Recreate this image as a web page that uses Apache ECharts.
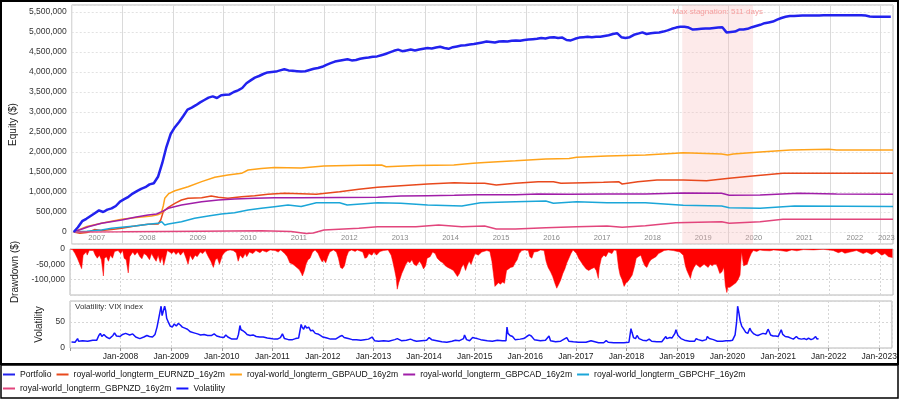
<!DOCTYPE html>
<html>
<head>
<meta charset="utf-8">
<title>Portfolio equity, drawdown and volatility</title>
<script src="https://cdn.jsdelivr.net/npm/echarts@6/dist/echarts.min.js"></script>
<style>
  html, body { margin: 0; padding: 0; background: #fff; }
  #chart { width: 900px; height: 399px; }
</style>
</head>
<body>
<div id="chart"></div>
<script>
// ---- data (dates are decimal years, money in thousands of $) ----
const portfolioName = 'Portfolio'
const eurnzdName = 'royal-world_longterm_EURNZD_16y2m'
const gbpaudName = 'royal-world_longterm_GBPAUD_16y2m'
const gbpcadName = 'royal-world_longterm_GBPCAD_16y2m'
const gbpchfName = 'royal-world_longterm_GBPCHF_16y2m'
const gbpnzdName = 'royal-world_longterm_GBPNZD_16y2m'
const volName = 'Volatility'

// portfolio: one value per month, first sample mid January 2007
const portfolioStart = 2007.04
const portfolioK = [
  0, 120, 270, 330, 400, 470, 540, 500, 560, 590, 650, 760,
  820, 880, 960, 1020, 1080, 1120, 1190, 1220, 1380, 1720, 2130, 2450,
  2620, 2750, 2900, 3060, 3110, 3170, 3240, 3300, 3360, 3390, 3350, 3420,
  3430, 3440, 3500, 3540, 3600, 3720, 3790, 3860, 3900, 3950, 3990, 4000,
  4010, 4040, 4070, 4040, 4030, 4020, 4010, 4020, 4050, 4080, 4100, 4130,
  4180, 4220, 4260, 4280, 4300, 4320, 4290, 4300, 4330, 4350, 4360, 4380,
  4390, 4420, 4450, 4490, 4530, 4560, 4520, 4540, 4560, 4540, 4560, 4580,
  4600, 4590, 4610, 4630, 4600, 4580, 4620, 4640, 4660, 4670, 4690, 4700,
  4720, 4740, 4760, 4750, 4740, 4760, 4770, 4760, 4780, 4790, 4780, 4800,
  4810, 4820, 4830, 4850, 4840, 4860, 4870, 4850, 4860, 4800, 4790, 4830,
  4860, 4870, 4880, 4870, 4880, 4880, 4900, 4920, 4950, 4970, 4870, 4850,
  4870, 4930, 4960, 4990, 4950, 4970, 4980, 4990, 5010, 5040, 5080, 5110,
  5130, 5130, 5110, 5060, 5070, 5080, 5090, 5090, 5100, 5110, 5120, 4990,
  5000, 5010, 5060, 5060, 5080, 5120, 5150, 5180, 5220, 5240, 5260, 5310,
  5350, 5380, 5400, 5400, 5405, 5410, 5410, 5410, 5415, 5415, 5420, 5420,
  5420, 5420, 5420, 5420, 5420, 5420, 5420, 5420, 5410, 5390, 5380, 5380,
  5380, 5380, 5380
]

const eurnzdK = [
  [2007.04, 0], [2007.16, -30], [2007.30, -15], [2007.45, 60], [2007.59, 40], [2007.79, 65],
  [2007.99, 92], [2008.25, 150], [2008.51, 192], [2008.71, 200], [2008.76, 300], [2008.81, 508],
  [2008.91, 617], [2009.04, 717], [2009.17, 800], [2009.30, 842], [2009.57, 858], [2009.76, 900],
  [2009.90, 867], [2010.09, 842], [2010.36, 883], [2010.62, 908], [2010.88, 942], [2011.21, 967],
  [2011.54, 955], [2011.84, 942], [2012.30, 1008], [2012.68, 1067], [2013.05, 1117], [2013.51, 1158],
  [2014.04, 1200], [2014.57, 1233], [2014.87, 1217], [2015.17, 1217], [2015.40, 1175], [2015.78, 1217],
  [2016.23, 1258], [2016.53, 1258], [2016.68, 1217], [2017.14, 1233], [2017.52, 1242], [2017.82, 1258],
  [2017.89, 1200], [2018.20, 1258], [2018.58, 1300], [2019.10, 1300], [2019.56, 1283], [2020.01, 1342],
  [2020.47, 1400], [2021.07, 1467], [2023.25, 1467]
]

const gbpaudK = [
  [2007.04, 0], [2007.30, 140], [2007.59, 220], [2007.99, 320], [2008.28, 360], [2008.58, 400],
  [2008.70, 430], [2008.77, 470], [2008.81, 650], [2008.84, 842], [2008.92, 960], [2009.04, 1030],
  [2009.30, 1130], [2009.57, 1260], [2009.83, 1370], [2010.09, 1425], [2010.36, 1467], [2010.49, 1550],
  [2010.75, 1590], [2011.01, 1610], [2011.54, 1600], [2011.99, 1650], [2012.68, 1670], [2013.13, 1675],
  [2013.22, 1630], [2013.81, 1660], [2014.56, 1675], [2014.94, 1720], [2015.17, 1740], [2015.78, 1780],
  [2016.38, 1825], [2016.84, 1840], [2016.99, 1870], [2017.59, 1900], [2018.35, 1925], [2018.95, 1970],
  [2019.10, 1980], [2019.86, 1950], [2019.98, 1925], [2020.09, 1950], [2020.62, 2000], [2021.22, 2050],
  [2021.98, 2070], [2022.13, 2050], [2023.25, 2050]
]

const gbpcadK = [
  [2007.04, 0], [2007.33, 133], [2007.59, 217], [2007.99, 300], [2008.25, 367], [2008.51, 425],
  [2008.68, 450], [2008.78, 508], [2008.91, 592], [2009.17, 675], [2009.57, 758], [2009.90, 800],
  [2010.22, 825], [2010.62, 842], [2011.01, 858], [2011.54, 858], [2013.05, 867], [2013.51, 900],
  [2014.04, 908], [2014.57, 917], [2015.02, 933], [2015.78, 933], [2016.23, 950], [2016.84, 942],
  [2017.59, 950], [2018.35, 950], [2019.10, 975], [2019.86, 967], [2020.01, 917], [2020.62, 925],
  [2021.38, 967], [2022.13, 950], [2023.25, 942]
]

const gbpchfK = [
  [2007.04, 0], [2007.30, 20], [2007.59, 50], [2007.79, 92], [2007.99, 117], [2008.25, 150],
  [2008.51, 192], [2008.71, 217], [2008.78, 258], [2008.84, 175], [2008.91, 200], [2009.17, 258],
  [2009.43, 342], [2009.70, 400], [2009.96, 450], [2010.22, 483], [2010.49, 550], [2010.75, 592],
  [2011.01, 633], [2011.28, 675], [2011.54, 640], [2011.84, 733], [2012.30, 733], [2012.45, 675],
  [2013.05, 733], [2013.51, 717], [2014.04, 675], [2014.72, 650], [2015.09, 733], [2015.78, 758],
  [2016.38, 775], [2016.53, 717], [2016.99, 758], [2017.59, 733], [2018.35, 733], [2019.10, 667],
  [2019.86, 650], [2020.01, 608], [2020.62, 592], [2021.30, 650], [2023.25, 640]
]

const gbpnzdK = [
  [2007.04, 0], [2007.99, 5], [2009.57, 20], [2010.75, 30], [2011.34, 15], [2011.64, -35],
  [2011.78, -25], [2011.99, 50], [2012.68, 92], [2013.05, 133], [2013.81, 133], [2014.26, 175],
  [2014.72, 133], [2015.17, 150], [2015.40, 75], [2015.78, 75], [2016.38, 108], [2016.99, 133],
  [2017.59, 150], [2017.89, 117], [2018.35, 158], [2018.95, 233], [2019.86, 258], [2020.01, 217],
  [2020.62, 258], [2021.07, 317], [2023.25, 317]
]

const drawdownK = [
  [2007.00, 0], [2007.05, -2], [2007.10, -15], [2007.145, -30], [2007.18, -25], [2007.23, -64],
  [2007.26, -20], [2007.32, -10], [2007.34, -20], [2007.38, -5], [2007.46, -5], [2007.50, -20],
  [2007.54, -30], [2007.58, -20], [2007.62, -35], [2007.66, -88], [2007.68, -30], [2007.72, -25],
  [2007.76, -40], [2007.80, -20], [2007.84, -30], [2007.88, -8], [2007.95, -5], [2008.00, -15],
  [2008.04, -5], [2008.07, -30], [2008.11, -35], [2008.15, -78], [2008.18, -25], [2008.24, -10],
  [2008.28, -20], [2008.33, -10], [2008.38, -25], [2008.42, -32], [2008.46, -15], [2008.51, -20],
  [2008.57, -35], [2008.61, -15], [2008.66, -30], [2008.70, -40], [2008.74, -20], [2008.78, -45],
  [2008.82, -25], [2008.85, -53], [2008.88, -48], [2008.92, -5], [2009.01, -15], [2009.05, -8],
  [2009.09, -18], [2009.14, -10], [2009.18, -20], [2009.24, -8], [2009.29, -30], [2009.33, -50],
  [2009.37, -20], [2009.42, -35], [2009.47, -20], [2009.51, -25], [2009.57, -10], [2009.62, -15],
  [2009.67, -5], [2009.73, -25], [2009.78, -40], [2009.83, -60], [2009.87, -35], [2009.91, -30],
  [2009.95, -50], [2009.98, -55], [2010.01, -20], [2010.06, -10], [2010.11, -5], [2010.16, -3],
  [2010.22, -5], [2010.28, -12], [2010.32, -40], [2010.36, -20], [2010.41, -30], [2010.46, -15],
  [2010.49, -25], [2010.54, -10], [2010.61, -15], [2010.67, -5], [2010.75, -12], [2010.80, -5],
  [2010.88, -10], [2010.95, -3], [2011.05, -5], [2011.11, -10], [2011.16, -3], [2011.24, -15],
  [2011.29, -25], [2011.34, -45], [2011.40, -50], [2011.44, -55], [2011.49, -62], [2011.53, -68],
  [2011.57, -80], [2011.59, -88], [2011.63, -70], [2011.66, -50], [2011.70, -35], [2011.74, -30],
  [2011.79, -10], [2011.84, -3], [2011.90, -15], [2011.94, -30], [2011.98, -42], [2012.01, -35],
  [2012.05, -45], [2012.09, -25], [2012.13, -10], [2012.20, -3], [2012.26, -10], [2012.30, -30],
  [2012.34, -60], [2012.38, -64], [2012.42, -55], [2012.46, -25], [2012.50, -8], [2012.56, -3],
  [2012.63, -8], [2012.67, -3], [2012.78, -10], [2012.82, -30], [2012.86, -28], [2012.90, -15],
  [2012.96, -20], [2013.00, -10], [2013.05, -20], [2013.12, -8], [2013.19, -5], [2013.28, -3],
  [2013.34, -20], [2013.37, -40], [2013.41, -70], [2013.44, -95], [2013.46, -131], [2013.49, -110],
  [2013.52, -95], [2013.55, -80], [2013.59, -65], [2013.63, -50], [2013.67, -40], [2013.71, -45],
  [2013.75, -35], [2013.79, -50], [2013.84, -55], [2013.90, -40], [2013.94, -50], [2013.98, -65],
  [2014.02, -55], [2014.05, -30], [2014.11, -25], [2014.16, -10], [2014.21, -15], [2014.25, -30],
  [2014.31, -40], [2014.36, -45], [2014.41, -55], [2014.46, -60], [2014.52, -65], [2014.57, -70],
  [2014.61, -80], [2014.65, -90], [2014.69, -80], [2014.73, -60], [2014.77, -50], [2014.81, -70],
  [2014.84, -55], [2014.88, -40], [2014.92, -50], [2014.96, -30], [2015.00, -15], [2015.06, -20],
  [2015.13, -10], [2015.16, -15], [2015.23, -5], [2015.29, -8], [2015.33, -40], [2015.36, -80],
  [2015.39, -122], [2015.42, -118], [2015.46, -110], [2015.50, -115], [2015.54, -108], [2015.58, -112],
  [2015.62, -70], [2015.66, -65], [2015.70, -60], [2015.75, -58], [2015.79, -45], [2015.83, -35],
  [2015.87, -15], [2015.92, -5], [2015.98, -3], [2016.05, -5], [2016.08, -25], [2016.12, -30],
  [2016.16, -10], [2016.23, -8], [2016.29, -3], [2016.36, -5], [2016.40, -40], [2016.44, -60],
  [2016.49, -75], [2016.53, -90], [2016.57, -110], [2016.61, -128], [2016.65, -115], [2016.69, -100],
  [2016.73, -80], [2016.77, -65], [2016.81, -45], [2016.85, -30], [2016.89, -15], [2016.93, -3],
  [2017.00, -15], [2017.04, -30], [2017.08, -40], [2017.14, -55], [2017.19, -65], [2017.24, -70],
  [2017.29, -65], [2017.35, -60], [2017.39, -70], [2017.43, -96], [2017.45, -60], [2017.49, -30],
  [2017.54, -20], [2017.58, -25], [2017.63, -10], [2017.70, -15], [2017.74, -3], [2017.79, -5],
  [2017.83, -60], [2017.86, -85], [2017.90, -100], [2017.94, -122], [2017.98, -110], [2018.02, -105],
  [2018.06, -95], [2018.10, -85], [2018.14, -60], [2018.18, -30], [2018.22, -25], [2018.27, -20],
  [2018.31, -40], [2018.35, -55], [2018.39, -60], [2018.43, -45], [2018.47, -35], [2018.52, -30],
  [2018.57, -25], [2018.62, -15], [2018.68, -10], [2018.73, -5], [2018.81, -3], [2018.91, -5],
  [2019.04, -10], [2019.11, -20], [2019.15, -55], [2019.18, -70], [2019.22, -85], [2019.25, -96],
  [2019.28, -75], [2019.32, -60], [2019.36, -50], [2019.40, -55], [2019.44, -60], [2019.48, -55],
  [2019.52, -50], [2019.56, -55], [2019.60, -60], [2019.64, -50], [2019.68, -55], [2019.72, -50],
  [2019.76, -50], [2019.79, -60], [2019.83, -80], [2019.87, -75], [2019.91, -60], [2019.94, -120],
  [2019.97, -142], [2019.99, -125], [2020.03, -125], [2020.07, -120], [2020.11, -115], [2020.15, -110],
  [2020.19, -100], [2020.23, -85], [2020.26, -10], [2020.30, -55], [2020.33, -55], [2020.37, -50],
  [2020.41, -30], [2020.45, -15], [2020.49, -5], [2020.56, -8], [2020.62, -3], [2020.69, -5],
  [2020.82, -6], [2020.89, -3], [2021.02, -5], [2021.15, -8], [2021.25, -3], [2021.35, -6],
  [2021.48, -2], [2021.68, -3], [2021.87, -1], [2022.07, -5], [2022.17, -12], [2022.24, -8],
  [2022.30, -14], [2022.40, -10], [2022.53, -5], [2022.66, -15], [2022.73, -10], [2022.83, -18],
  [2022.93, -8], [2023.03, -20], [2023.09, -15], [2023.16, -25], [2023.24, -28]
]

const vixIndex = [
  [2007.03, 11.5], [2007.10, 11], [2007.15, 18], [2007.17, 13], [2007.25, 14], [2007.35, 13],
  [2007.45, 15], [2007.53, 15], [2007.57, 24], [2007.60, 28], [2007.63, 22], [2007.67, 26],
  [2007.72, 21], [2007.78, 18], [2007.85, 24], [2007.88, 29], [2007.92, 23], [2007.99, 22],
  [2008.04, 26], [2008.10, 28], [2008.13, 30], [2008.18, 25], [2008.24, 27], [2008.30, 21],
  [2008.38, 18], [2008.46, 21], [2008.52, 24], [2008.57, 22], [2008.63, 21], [2008.68, 26],
  [2008.72, 40], [2008.75, 55], [2008.78, 70], [2008.80, 80], [2008.82, 62], [2008.85, 65],
  [2008.87, 80], [2008.89, 72], [2008.91, 57], [2008.95, 48], [2008.98, 42], [2009.02, 40],
  [2009.06, 46], [2009.10, 42], [2009.14, 47], [2009.18, 44], [2009.22, 40], [2009.27, 38],
  [2009.32, 36], [2009.38, 31], [2009.45, 29], [2009.52, 27], [2009.58, 25], [2009.65, 26],
  [2009.72, 24], [2009.80, 24], [2009.85, 27], [2009.90, 23], [2009.97, 21], [2010.04, 20],
  [2010.08, 25], [2010.12, 21], [2010.20, 17], [2010.30, 17], [2010.33, 26], [2010.36, 43],
  [2010.38, 35], [2010.42, 33], [2010.46, 30], [2010.50, 26], [2010.56, 24], [2010.62, 25],
  [2010.68, 22], [2010.75, 21], [2010.82, 21], [2010.90, 19], [2010.97, 18], [2011.04, 17],
  [2011.10, 17], [2011.16, 20], [2011.20, 27], [2011.24, 18], [2011.32, 16], [2011.40, 16],
  [2011.46, 18], [2011.52, 19], [2011.57, 45], [2011.59, 40], [2011.62, 36], [2011.65, 43],
  [2011.68, 38], [2011.72, 40], [2011.76, 33], [2011.80, 34], [2011.85, 28], [2011.90, 27],
  [2011.95, 24], [2012.00, 21], [2012.08, 19], [2012.15, 17], [2012.25, 17], [2012.33, 22],
  [2012.38, 24], [2012.42, 20], [2012.50, 18], [2012.58, 16], [2012.66, 16], [2012.75, 15],
  [2012.82, 16], [2012.90, 17], [2012.97, 21], [2013.02, 14], [2013.10, 13], [2013.20, 14],
  [2013.30, 13], [2013.42, 16], [2013.47, 18], [2013.55, 14], [2013.65, 15], [2013.73, 17],
  [2013.78, 15], [2013.85, 13], [2013.95, 14], [2014.05, 15], [2014.10, 20], [2014.15, 16],
  [2014.25, 14], [2014.35, 12], [2014.45, 11], [2014.55, 13], [2014.62, 15], [2014.70, 14],
  [2014.78, 18], [2014.80, 25], [2014.84, 16], [2014.90, 14], [2014.96, 20], [2015.00, 19],
  [2015.05, 18], [2015.12, 16], [2015.25, 14], [2015.35, 13], [2015.45, 15], [2015.55, 14],
  [2015.62, 14], [2015.64, 40], [2015.66, 28], [2015.70, 24], [2015.75, 22], [2015.80, 16],
  [2015.90, 17], [2015.97, 18], [2016.03, 22], [2016.08, 25], [2016.12, 23], [2016.18, 16],
  [2016.30, 14], [2016.40, 15], [2016.47, 23], [2016.50, 14], [2016.60, 12], [2016.70, 13],
  [2016.82, 20], [2016.86, 13], [2016.95, 12], [2017.05, 11], [2017.20, 11], [2017.30, 14],
  [2017.33, 11], [2017.45, 10], [2017.55, 10], [2017.60, 14], [2017.64, 11], [2017.75, 10],
  [2017.85, 10], [2017.95, 10], [2018.05, 11], [2018.09, 37], [2018.11, 30], [2018.14, 20],
  [2018.18, 18], [2018.21, 24], [2018.25, 18], [2018.32, 15], [2018.40, 14], [2018.45, 17],
  [2018.50, 13], [2018.60, 12], [2018.70, 12], [2018.78, 22], [2018.80, 18], [2018.86, 20],
  [2018.90, 19], [2018.96, 28], [2018.98, 35], [2019.02, 24], [2019.08, 18], [2019.15, 15],
  [2019.25, 13], [2019.35, 13], [2019.38, 18], [2019.42, 16], [2019.50, 14], [2019.58, 16],
  [2019.60, 22], [2019.64, 18], [2019.72, 16], [2019.80, 13], [2019.90, 13], [2019.97, 14],
  [2020.05, 14], [2020.10, 15], [2020.15, 25], [2020.18, 50], [2020.20, 80], [2020.22, 70],
  [2020.25, 52], [2020.28, 42], [2020.32, 36], [2020.36, 30], [2020.40, 28], [2020.44, 38],
  [2020.47, 32], [2020.52, 27], [2020.56, 25], [2020.60, 24], [2020.65, 26], [2020.70, 28],
  [2020.72, 30], [2020.76, 27], [2020.80, 36], [2020.82, 32], [2020.85, 25], [2020.90, 23],
  [2020.95, 23], [2021.00, 22], [2021.06, 35], [2021.09, 26], [2021.14, 22], [2021.20, 21],
  [2021.25, 19], [2021.30, 17], [2021.36, 22], [2021.40, 18], [2021.46, 17], [2021.52, 18],
  [2021.56, 16], [2021.60, 19], [2021.65, 16], [2021.70, 18], [2021.74, 22], [2021.77, 17],
  [2021.80, 18]
]

const stagnationFrom = 2019.08
const stagnationTo = 2020.48
const stagnationLabel = 'Max stagnation: 511 days'
const axisStart = 2007.0
const axisEnd = 2023.25

// ---- helpers ----
const FONT = '"Liberation Sans", Arial, sans-serif'

// decimal year -> UTC timestamp
function yr(d) {
  const y = Math.floor(d)
  const a = Date.UTC(y, 0, 1)
  const b = Date.UTC(y + 1, 0, 1)
  return a + (d - y) * (b - a)
}

const fmtNum = v => Math.round(v).toLocaleString('en-US')

const equityLine = (name, pts, color, width, extra) => Object.assign({
  name,
  type: 'line',
  xAxisIndex: 0,
  yAxisIndex: 0,
  showSymbol: false,
  symbol: 'none',
  lineStyle: { color, width },
  itemStyle: { color },
  data: pts.map(p => [yr(p[0]), p[1] * 1000])
}, extra || {})

const YEAR = 365 * 24 * 3600 * 1000

const timeAxis = (gridIndex, extra) => Object.assign({
  type: 'time',
  gridIndex,
  min: yr(axisStart),
  max: yr(axisEnd),
  splitNumber: 16,
  minInterval: YEAR,
  maxInterval: YEAR + 24 * 3600 * 1000,
  axisLine: { show: false },
  axisTick: { show: false }
}, extra)

const chart = echarts.init(document.getElementById('chart'), null, { renderer: 'canvas' })

const option = {
  animation: false,
  backgroundColor: '#fff',
  textStyle: { fontFamily: FONT },
  title: {
    text: 'Volatility: VIX index',
    left: 75,
    top: 303,
    padding: 0,
    textStyle: { fontSize: 8, fontWeight: 'normal', color: '#333', fontFamily: FONT }
  },
  legend: {
    data: [portfolioName, eurnzdName, gbpaudName, gbpcadName, gbpchfName, gbpnzdName, volName],
    left: 3,
    top: 370,
    width: 780,
    padding: 0,
    icon: 'rect',
    itemWidth: 12,
    itemHeight: 2,
    itemGap: 5,
    textStyle: { fontSize: 8.6, color: '#111', lineHeight: 9, fontFamily: FONT }
  },
  grid: [
    { left: 70, right: 7, top: 5, height: 239, show: true, borderColor: '#b8b8b8', borderWidth: 1 },
    { left: 70, right: 7, top: 249, height: 46, show: true, borderColor: '#b8b8b8', borderWidth: 1 },
    { left: 70, right: 7, top: 301, height: 47, show: true, borderColor: '#b8b8b8', borderWidth: 1 }
  ],
  xAxis: [
    timeAxis(0, {
      splitLine: { show: true, lineStyle: { color: '#dadada', width: 1 } },
      axisLabel: {
        inside: true,
        margin: 2,
        showMinLabel: true,
        formatter: v => {
          const y = new Date(v).getUTCFullYear()
          return y === 2023 ? '{e|' + y + '}' : '{m|' + y + '}'
        },
        rich: {
          m: { color: '#8a8a8a', fontSize: 7.5, padding: [0, 0, 0, 50], fontFamily: FONT },
          e: { color: '#8a8a8a', fontSize: 7.5, padding: [0, 0, 0, 12], fontFamily: FONT }
        }
      }
    }),
    timeAxis(1, {
      axisLabel: { show: false },
      splitLine: { show: true, lineStyle: { color: '#d6d6d6', type: [2, 2] } }
    }),
    timeAxis(2, {
      axisTick: { show: true, length: 3, lineStyle: { color: '#999' } },
      splitLine: { show: true, lineStyle: { color: '#d6d6d6', type: [2, 2] } },
      axisLabel: {
        margin: 4,
        color: '#222',
        fontSize: 8.5,
        fontFamily: FONT,
        formatter: v => {
          const y = new Date(v).getUTCFullYear()
          return y <= 2007 ? '' : 'Jan-' + y
        }
      }
    })
  ],
  yAxis: [
    {
      type: 'value',
      gridIndex: 0,
      min: -300000,
      max: 5675000,
      splitNumber: 12,
      minInterval: 500000,
      maxInterval: 500000,
      name: 'Equity ($)',
      nameLocation: 'middle',
      nameGap: 50,
      nameTextStyle: { fontSize: 10, color: '#222', fontFamily: FONT },
      axisLine: { show: false },
      axisTick: { show: false },
      splitLine: { lineStyle: { color: '#e2e2e2', type: [2, 2] } },
      axisLabel: {
        margin: 5, fontSize: 8.5, color: '#333', fontFamily: FONT,
        showMinLabel: false, showMaxLabel: false,
        formatter: v => (v < 0 || v > 5600000) ? '' : fmtNum(v)
      }
    },
    {
      type: 'value',
      gridIndex: 1,
      min: -150000,
      max: 0,
      interval: 50000,
      name: 'Drawdown ($)',
      nameLocation: 'middle',
      nameGap: 50,
      nameTextStyle: { fontSize: 10, color: '#222', fontFamily: FONT },
      axisLine: { show: false },
      axisTick: { show: false },
      splitLine: { lineStyle: { color: '#d6d6d6', type: [2, 2] } },
      axisLabel: {
        margin: 5, fontSize: 8.5, color: '#333', fontFamily: FONT,
        showMinLabel: false,
        formatter: v => fmtNum(v)
      }
    },
    {
      type: 'value',
      gridIndex: 2,
      min: 0,
      max: 90,
      interval: 50,
      name: 'Volatility',
      nameLocation: 'middle',
      nameGap: 20,
      nameTextStyle: { fontSize: 10, color: '#222', fontFamily: FONT },
      axisLine: { show: false },
      axisTick: { show: false },
      splitLine: { lineStyle: { color: '#d6d6d6', type: [2, 2] } },
      axisLabel: {
        margin: 5, fontSize: 8.5, color: '#333', fontFamily: FONT,
        showMaxLabel: false
      }
    }
  ],
  series: [
    equityLine(eurnzdName, eurnzdK, '#e8491d', 1.5, {
      markArea: {
        silent: true,
        itemStyle: { color: 'rgba(250, 185, 185, 0.3)' },
        label: {
          show: true,
          position: 'insideTop',
          distance: 3,
          color: '#f5a0a0',
          fontSize: 8,
          fontFamily: FONT,
          formatter: stagnationLabel
        },
        data: [[{ xAxis: yr(stagnationFrom) }, { xAxis: yr(stagnationTo) }]]
      }
    }),
    equityLine(gbpaudName, gbpaudK, '#ffa31a', 1.5),
    equityLine(gbpcadName, gbpcadK, '#a01ea8', 1.5),
    equityLine(gbpchfName, gbpchfK, '#1ba6d8', 1.5),
    equityLine(gbpnzdName, gbpnzdK, '#e2457c', 1.5),
    {
      name: portfolioName,
      type: 'line',
      xAxisIndex: 0,
      yAxisIndex: 0,
      showSymbol: false,
      symbol: 'none',
      z: 5,
      lineStyle: { color: '#2222ee', width: 2.5 },
      itemStyle: { color: '#2222ee' },
      data: portfolioK.map((v, i) => [yr(portfolioStart + i / 12), v * 1000])
    },
    {
      name: 'Drawdown',
      type: 'line',
      xAxisIndex: 1,
      yAxisIndex: 1,
      showSymbol: false,
      symbol: 'none',
      lineStyle: { color: '#ff0000', width: 0.5 },
      itemStyle: { color: '#ff0000' },
      areaStyle: { color: '#ff0000', opacity: 1 },
      data: drawdownK.map(p => [yr(p[0]), p[1] * 1000])
    },
    {
      name: volName,
      type: 'line',
      xAxisIndex: 2,
      yAxisIndex: 2,
      showSymbol: false,
      symbol: 'none',
      lineStyle: { color: '#1414ff', width: 1.5 },
      itemStyle: { color: '#1414ff' },
      data: vixIndex.map(p => [yr(p[0]), p[1]])
    }
  ],
  graphic: [
    {
      type: 'rect', silent: true,
      shape: { x: 1, y: 1, width: 897, height: 363 },
      style: { fill: 'none', stroke: '#000', lineWidth: 2 }
    },
    {
      type: 'rect', silent: true,
      shape: { x: 1, y: 365, width: 897, height: 33 },
      style: { fill: 'none', stroke: '#000', lineWidth: 1.5 }
    }
  ]
}

chart.setOption(option)
window.addEventListener('resize', () => chart.resize())
</script>
</body>
</html>
